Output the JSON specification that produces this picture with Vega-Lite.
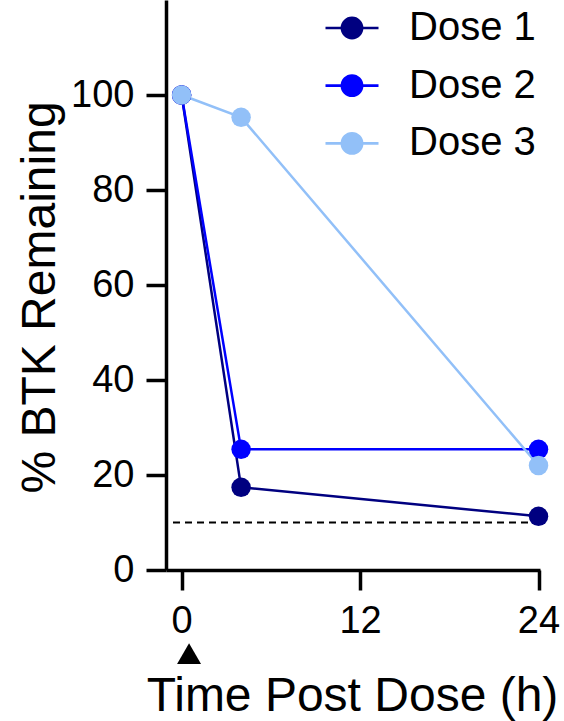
{
  "$schema": "https://vega.github.io/schema/vega-lite/v6.json",
  "width": 374,
  "height": 570,
  "autosize": {"type": "none"},
  "padding": {"left": 166, "top": 0, "right": 24, "bottom": 151},
  "background": "white",
  "config": {
    "view": {"stroke": null},
    "font": "Liberation Sans",
    "axis": {
      "domainColor": "black",
      "domainWidth": 3.5,
      "tickColor": "black",
      "tickWidth": 3.5,
      "tickSize": 20,
      "labelFont": "Liberation Sans",
      "labelFontSize": 38,
      "labelColor": "black",
      "labelFlush": false,
      "labelOverlap": false,
      "titleFont": "Liberation Sans",
      "titleFontSize": 48,
      "titleFontWeight": "normal",
      "titleColor": "black",
      "grid": false
    }
  },
  "datasets": {
    "btk": [
      {"time": 0, "pct": 100, "dose": "Dose 1"},
      {"time": 4, "pct": 17.4, "dose": "Dose 1"},
      {"time": 24, "pct": 11.3, "dose": "Dose 1"},
      {"time": 0, "pct": 100, "dose": "Dose 2"},
      {"time": 4, "pct": 25.4, "dose": "Dose 2"},
      {"time": 24, "pct": 25.4, "dose": "Dose 2"},
      {"time": 0, "pct": 100, "dose": "Dose 3"},
      {"time": 4, "pct": 95.3, "dose": "Dose 3"},
      {"time": 24, "pct": 22.0, "dose": "Dose 3"}
    ],
    "threshold": [{"pct": 10}],
    "marker": [{"time": 0.5, "pct": -17.6}]
  },
  "layer": [
    {
      "data": {"name": "threshold"},
      "mark": {"type": "rule", "color": "black", "strokeWidth": 2.2, "strokeDash": [7, 5]},
      "encoding": {
        "y": {"field": "pct", "type": "quantitative", "scale": {"domain": [0, 120], "nice": false, "zero": false}}
      }
    },
    {
      "data": {"name": "btk"},
      "encoding": {
        "x": {
          "field": "time",
          "type": "quantitative",
          "scale": {"domain": [-1.05, 24.1], "nice": false, "zero": false},
          "axis": {
            "values": [0, 12, 24],
            "labelPadding": 12,
            "title": "Time Post Dose (h)",
            "titleX": 186,
            "titleY": 140,
            "titleAlign": "center",
            "titleBaseline": "alphabetic"
          }
        },
        "y": {
          "field": "pct",
          "type": "quantitative",
          "scale": {"domain": [0, 120], "nice": false, "zero": false},
          "axis": {
            "values": [0, 20, 40, 60, 80, 100],
            "labelPadding": 12,
            "title": "% BTK Remaining",
            "titleAngle": -90,
            "titleX": -112,
            "titleY": 297,
            "titleAlign": "center",
            "titleBaseline": "alphabetic"
          }
        },
        "color": {
          "field": "dose",
          "type": "nominal",
          "scale": {"domain": ["Dose 1", "Dose 2", "Dose 3"], "range": ["#000080", "#0000FF", "#92C0F8"]},
          "legend": {
            "orient": "none",
            "legendX": 158,
            "legendY": 0,
            "title": null,
            "padding": 0,
            "symbolType": "M-1,0L1,0M-0.38,0A0.38,0.38 0 1,0 0.38,0A0.38,0.38 0 1,0 -0.38,0Z",
            "symbolSize": 2809,
            "symbolStrokeWidth": 2.7,
            "labelFont": "Liberation Sans",
            "labelFontSize": 40,
            "labelColor": "black",
            "labelOffset": 29,
            "rowPadding": 9.7,
            "encode": {
              "symbols": {
                "update": {
                  "fill": {"scale": "color", "field": "value"},
                  "stroke": {"scale": "color", "field": "value"},
                  "fillOpacity": {"value": 1},
                  "opacity": {"value": 1}
                }
              }
            }
          }
        }
      },
      "layer": [
        {"mark": {"type": "line", "strokeWidth": 2.5}},
        {"mark": {"type": "point", "filled": true, "size": 380, "opacity": 1}}
      ]
    },
    {
      "data": {"name": "marker"},
      "mark": {"type": "point", "shape": "triangle-up", "filled": true, "size": 576, "color": "black", "opacity": 1},
      "encoding": {
        "x": {"field": "time", "type": "quantitative"},
        "y": {"field": "pct", "type": "quantitative"}
      }
    }
  ]
}
